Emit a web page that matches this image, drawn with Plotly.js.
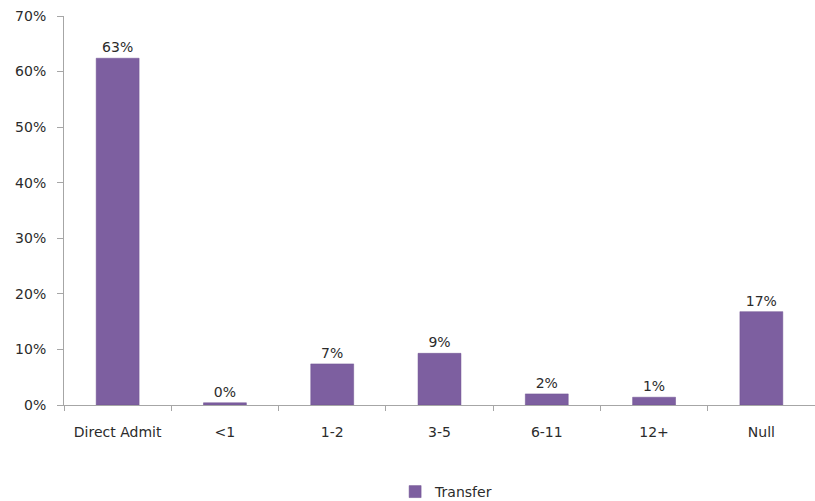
<!DOCTYPE html>
<html>
<head>
<meta charset="utf-8">
<script src="https://cdn.plot.ly/plotly-3.0.1.min.js"></script>
<style>html,body{margin:0;padding:0;background:#fff;}#chart{width:815px;height:501px;}</style>
</head>
<body>
<div id="chart"></div>
<script>
const categories = ["Direct Admit", "<1", "1-2", "3-5", "6-11", "12+", "Null"];
const transferValues = [0.624, 0.004, 0.074, 0.093, 0.020, 0.014, 0.168];
const valueLabels = ["63%", "0%", "7%", "9%", "2%", "1%", "17%"];
const seriesName = "Transfer";

const fontFamily = "'DejaVu Sans', Verdana, sans-serif";
const textColor = "#2b2b2b";

const trace = {
  type: "bar",
  x: categories,
  y: transferValues,
  name: seriesName,
  text: valueLabels,
  textposition: "outside",
  cliponaxis: false,
  textfont: {family: fontFamily, size: 14, color: textColor},
  marker: {color: "#7D5FA0", line: {color: "#6E5190", width: 0.5}},
  hoverinfo: "none"
};

const layout = {
  width: 815,
  height: 501,
  margin: {l: 64, r: 0, t: 16, b: 96},
  paper_bgcolor: "#ffffff",
  plot_bgcolor: "#ffffff",
  bargap: 0.6,
  showlegend: true,
  legend: {
    orientation: "h",
    xref: "container",
    yref: "container",
    x: 0.548, xanchor: "center",
    y: 0.018, yanchor: "middle",
    font: {family: fontFamily, size: 14, color: textColor}
  },
  xaxis: {
    type: "category",
    showline: true,
    linecolor: "#A6A6A6",
    linewidth: 1,
    ticks: "outside",
    tickson: "boundaries",
    ticklen: 5,
    tickcolor: "#A6A6A6",
    showgrid: false,
    zeroline: false,
    ticklabelstandoff: 14,
    tickfont: {family: fontFamily, size: 14, color: textColor}
  },
  yaxis: {
    range: [0, 0.7],
    dtick: 0.1,
    tickformat: ".0%",
    showline: true,
    linecolor: "#A6A6A6",
    linewidth: 1,
    ticks: "outside",
    ticklen: 6,
    tickcolor: "#A6A6A6",
    showgrid: false,
    zeroline: false,
    ticklabelstandoff: 8,
    tickfont: {family: fontFamily, size: 14, color: textColor}
  }
};

Plotly.newPlot("chart", [trace], layout, {displayModeBar: false, staticPlot: true});
</script>
</body>
</html>
